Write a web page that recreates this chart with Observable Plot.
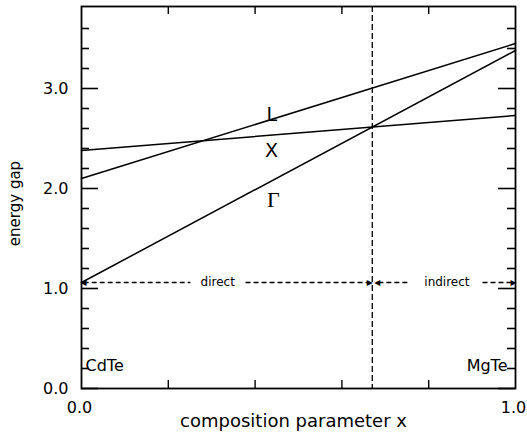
<!DOCTYPE html>
<html>
<head>
<meta charset="utf-8">
<script src="https://cdn.jsdelivr.net/npm/d3@7"></script>
<script src="https://cdn.jsdelivr.net/npm/@observablehq/plot@0.6"></script>
<style>
  html, body { margin: 0; padding: 0; background: #fff; }
  #chart svg { font-family: "DejaVu Sans", sans-serif; }
</style>
</head>
<body>
<div id="chart"></div>
<script>
// ---- data ----
const compositionX = [0, 1];
const gapGamma = [1.06, 3.38];
const gapL = [2.10, 3.45];
const gapX = [2.38, 2.73];
const crossover = 0.67;
const directLevel = 1.06;

const yMajorTicks = [0, 1, 2, 3];
const yMinorTicks = [0.2, 0.4, 0.6, 0.8, 1.2, 1.4, 1.6, 1.8, 2.2, 2.4, 2.6, 2.8, 3.2, 3.4, 3.6];
const xMinorTicks = [0.2, 0.4, 0.6, 0.8];
const xTickLabels = [0, 1];
const yTickLabels = [0, 1, 2, 3];

// ---- layout ----
const W = 527, H = 435;
const mL = 81, mR = 12, mT = 6, mB = 47;
const yMax = 3.82;
const kx = 1 / (W - mL - mR);          // x units per pixel
const ky = yMax / (H - mT - mB);       // y units per pixel

const series = (ys) => compositionX.map((x, i) => ({x, y: ys[i]}));
const lineGamma = series(gapGamma);
const lineL = series(gapL);
const lineX = series(gapX);
const at = (ys, x) => ys[0] + (ys[1] - ys[0]) * x;

const minorLen = 8, majorLen = 17, xTickLen = 8;

// arrow segments (dashed bodies)
const dashSegs = [
  {x1: 0.005, x2: 0.251}, {x1: 0.378, x2: 0.662},
  {x1: 0.684, x2: 0.753}, {x1: 0.924, x2: 0.993}
];
const headsRight = [0.669, 1.0];
const headsLeft = [0.0, 0.677];

const chart = Plot.plot({
  width: W, height: H,
  marginLeft: mL, marginRight: mR, marginTop: mT, marginBottom: mB,
  x: {domain: [0, 1], axis: null},
  y: {domain: [0, yMax], axis: null},
  style: {fontFamily: "DejaVu Sans, sans-serif", color: "black"},
  marks: [
    // inward ticks, left and right
    Plot.ruleY(yMinorTicks, {y: d => d, x1: 0, x2: minorLen * kx, stroke: "black", strokeWidth: 1.6}),
    Plot.ruleY(yMinorTicks, {y: d => d, x1: 1 - minorLen * kx, x2: 1, stroke: "black", strokeWidth: 1.6}),
    Plot.ruleY(yMajorTicks, {y: d => d, x1: 0, x2: majorLen * kx, stroke: "black", strokeWidth: 1.6}),
    Plot.ruleY(yMajorTicks, {y: d => d, x1: 1 - majorLen * kx, x2: 1, stroke: "black", strokeWidth: 1.6}),
    // inward ticks, bottom and top
    Plot.ruleX(xMinorTicks, {x: d => d, y1: 0, y2: xTickLen * ky, stroke: "black", strokeWidth: 1.4}),
    Plot.ruleX(xMinorTicks, {x: d => d, y1: yMax - xTickLen * ky, y2: yMax, stroke: "black", strokeWidth: 1.4}),
    // crossover dashed line
    Plot.ruleX([crossover], {stroke: "black", strokeWidth: 1.3, strokeDasharray: "6,3"}),
    // band gap lines
    Plot.line(lineGamma, {x: "x", y: "y", stroke: "black", strokeWidth: 1.5}),
    Plot.line(lineL, {x: "x", y: "y", stroke: "black", strokeWidth: 1.5}),
    Plot.line(lineX, {x: "x", y: "y", stroke: "black", strokeWidth: 1.5}),
    // direct / indirect dashed arrows
    Plot.link(dashSegs, {x1: "x1", x2: "x2", y1: directLevel, y2: directLevel, stroke: "black", strokeWidth: 1.3, strokeDasharray: "5,3"}),
    Plot.text(headsRight, {x: d => d, y: directLevel, text: () => "\u25B8", textAnchor: "end", fontSize: 12, dx: 1}),
    Plot.text(headsLeft, {x: d => d, y: directLevel, text: () => "\u25C2", textAnchor: "start", fontSize: 12, dx: -1}),
    Plot.text(["direct"], {x: 0.314, y: directLevel, fontSize: 12, letterSpacing: 0.3}),
    Plot.text(["indirect"], {x: 0.842, y: directLevel, fontSize: 12, letterSpacing: 0.3}),
    // curve labels
    Plot.text(["L"], {x: 0.426, y: at(gapL, 0.426), textAnchor: "start", lineAnchor: "bottom", fontSize: 19, dy: 0}),
    Plot.text(["X"], {x: 0.438, y: at(gapX, 0.438), fontSize: 19, dy: 16}),
    Plot.text(["\u0393"], {x: 0.442, y: at(gapGamma, 0.442), fontSize: 22, fontFamily: "Liberation Serif", dy: 20}),
    // material labels
    Plot.text(["CdTe"], {x: 0, y: 0.23, textAnchor: "start", fontSize: 16, dx: 4, letterSpacing: 1}),
    Plot.text(["MgTe"], {x: 1, y: 0.23, textAnchor: "end", fontSize: 16, dx: -8, letterSpacing: 1}),
    // tick labels
    Plot.text(yTickLabels, {x: 0, y: d => d, text: d => d.toFixed(1), textAnchor: "end", dx: -13, fontSize: 16, letterSpacing: 1.5}),
    Plot.text(xTickLabels, {x: d => d, y: 0, text: d => d.toFixed(1), lineAnchor: "top", dy: 13, dx: -2, fontSize: 16, letterSpacing: 1.5}),
    // axis titles
    Plot.text(["composition parameter x"], {frameAnchor: "bottom", dy: 38, dx: -5, fontSize: 18, letterSpacing: 2.2}),
    Plot.text(["energy gap"], {frameAnchor: "left", textAnchor: "middle", rotate: -90, dx: -66, dy: 6, fontSize: 15, letterSpacing: 0.5}),
    Plot.frame({stroke: "black", strokeWidth: 1.8})
  ]
});
document.getElementById("chart").appendChild(chart);
</script>
</body>
</html>
